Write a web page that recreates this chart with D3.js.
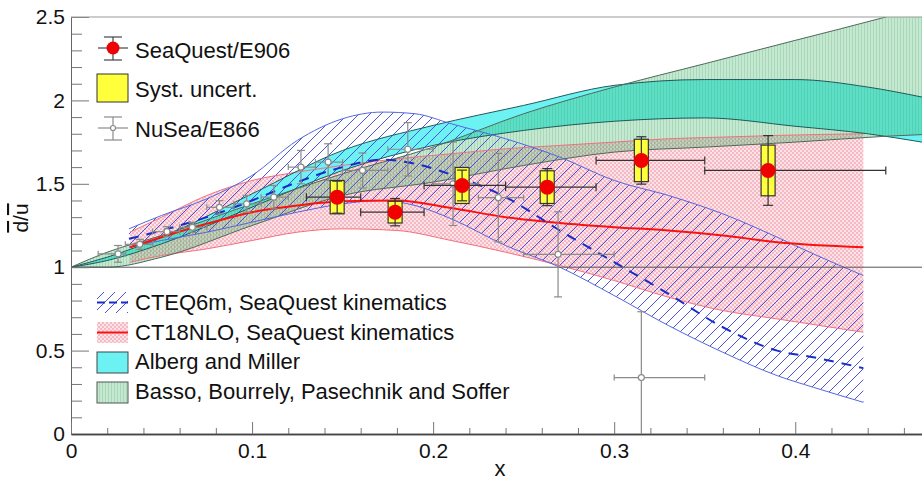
<!DOCTYPE html>
<html>
<head>
<meta charset="utf-8">
<script src="https://cdn.jsdelivr.net/npm/d3@7"></script>
<style>
body { margin: 0; background: #fff; }
svg { display: block; font-family: "Liberation Sans", Arial, Helvetica, sans-serif; }
</style>
</head>
<body>
<svg id="chart" width="922" height="483"></svg>
<script>
// SeaQuest / E906 points
var e906X = [0.147, 0.179, 0.216, 0.263, 0.315, 0.385];
var e906Y = [1.42, 1.33, 1.49, 1.48, 1.64, 1.58];
var e906Stat = [0.096, 0.082, 0.092, 0.111, 0.142, 0.209];
var e906Syst = [0.100, 0.065, 0.108, 0.098, 0.127, 0.152];
var e906XLo = [0.13, 0.16, 0.195, 0.24, 0.29, 0.35];
var e906XHi = [0.16, 0.195, 0.24, 0.29, 0.35, 0.45];

// NuSea / E866 points
var e866X = [0.026, 0.038, 0.053, 0.067, 0.082, 0.097, 0.112, 0.127, 0.142, 0.161, 0.186, 0.211, 0.236, 0.269, 0.315];
var e866Y = [1.08, 1.137, 1.213, 1.239, 1.359, 1.38, 1.42, 1.60, 1.63, 1.58, 1.707, 1.50, 1.417, 1.077, 0.338];
var e866Err = [0.05, 0.03, 0.03, 0.03, 0.04, 0.05, 0.07, 0.10, 0.11, 0.105, 0.16, 0.25, 0.265, 0.255, 0.395];
var e866XLo = [0.015, 0.03, 0.045, 0.06, 0.075, 0.09, 0.105, 0.12, 0.135, 0.15, 0.175, 0.20, 0.225, 0.25, 0.30];
var e866XHi = [0.03, 0.045, 0.06, 0.075, 0.09, 0.105, 0.12, 0.135, 0.15, 0.175, 0.20, 0.225, 0.25, 0.30, 0.35];

// CTEQ6m band
var ctqX = [0.032, 0.05, 0.075, 0.10, 0.125, 0.15, 0.172, 0.19, 0.21, 0.24, 0.27, 0.30, 0.33, 0.36, 0.39, 0.41, 0.4376];
var ctqHi = [1.23, 1.31, 1.41, 1.55, 1.76, 1.89, 1.93, 1.92, 1.86, 1.77, 1.66, 1.52, 1.43, 1.32, 1.18, 1.08, 0.95];
var ctqMid = [1.17, 1.22, 1.30, 1.40, 1.51, 1.60, 1.645, 1.62, 1.555, 1.42, 1.22, 1.03, 0.84, 0.64, 0.50, 0.46, 0.395];
var ctqLo = [1.12, 1.16, 1.21, 1.27, 1.33, 1.38, 1.40, 1.37, 1.29, 1.13, 1.00, 0.83, 0.65, 0.49, 0.35, 0.28, 0.19];

// CT18NLO band
var ct18X = [0.0326, 0.05, 0.075, 0.10, 0.125, 0.15, 0.18, 0.21, 0.24, 0.27, 0.30, 0.33, 0.36, 0.39, 0.4376];
var ct18Hi = [1.21, 1.30, 1.43, 1.52, 1.57, 1.61, 1.65, 1.68, 1.71, 1.73, 1.75, 1.77, 1.78, 1.79, 1.80];
var ct18Mid = [1.12, 1.18, 1.26, 1.33, 1.37, 1.395, 1.40, 1.355, 1.30, 1.265, 1.24, 1.22, 1.19, 1.15, 1.12];
var ct18Lo = [1.03, 1.07, 1.11, 1.16, 1.21, 1.23, 1.22, 1.16, 1.09, 1.01, 0.92, 0.82, 0.74, 0.69, 0.61];

// Alberg and Miller band
var amX = [0, 0.02, 0.05, 0.10, 0.15, 0.20, 0.25, 0.30, 0.35, 0.40, 0.44, 0.47];
var amLo = [1.0, 1.04, 1.14, 1.36, 1.58, 1.73, 1.82, 1.875, 1.895, 1.845, 1.80, 1.75];
var amHi = [1.0, 1.06, 1.18, 1.44, 1.70, 1.85, 1.97, 2.09, 2.125, 2.125, 2.08, 2.02];

// Basso, Bourrely, Pasechnik and Soffer band
var bbX = [0, 0.02, 0.05, 0.10, 0.15, 0.20, 0.25, 0.30, 0.35, 0.40, 0.45, 0.47];
var bbLo = [1.0, 1.0, 1.06, 1.25, 1.43, 1.51, 1.61, 1.69, 1.72, 1.75, 1.785, 1.795];
var bbHi = [1.0, 1.09, 1.19, 1.38, 1.56, 1.72, 1.92, 2.08, 2.22, 2.36, 2.50, 2.56];

var xTicks = [0, 0.1, 0.2, 0.3, 0.4];
var yTicks = [0, 0.5, 1, 1.5, 2, 2.5];

var svg = d3.select("#chart");
var x = d3.scaleLinear().domain([0, 0.47]).range([71, 922]);
var y = d3.scaleLinear().domain([0, 2.5]).range([434, 17]);

var defs = svg.append("defs");
defs.append("clipPath").attr("id", "plotclip")
    .append("rect").attr("x", 71).attr("y", 17).attr("width", 851).attr("height", 417);

var hatch = defs.append("pattern").attr("id", "hatch")
    .attr("patternUnits", "userSpaceOnUse").attr("width", 11).attr("height", 11);
hatch.append("path").attr("d", "M-1,1 l2,-2 M0,11 l11,-11 M10,12 l2,-2")
    .attr("stroke", "#4a55dc").attr("stroke-width", 1);

var dots = defs.append("pattern").attr("id", "dots")
    .attr("patternUnits", "userSpaceOnUse").attr("width", 4).attr("height", 4);
dots.append("rect").attr("width", 4).attr("height", 4).attr("fill", "#fde2e7");
dots.append("rect").attr("width", 2).attr("height", 2).attr("fill", "#f5b9c4");
dots.append("rect").attr("x", 2).attr("y", 2).attr("width", 2).attr("height", 2).attr("fill", "#f5b9c4");

var stripes = defs.append("pattern").attr("id", "stripes")
    .attr("patternUnits", "userSpaceOnUse").attr("width", 3).attr("height", 3);
stripes.append("rect").attr("width", 3).attr("height", 3).attr("fill", "rgb(60,180,100)").attr("fill-opacity", 0.30);
stripes.append("rect").attr("width", 1).attr("height", 3).attr("fill", "rgb(40,140,80)").attr("fill-opacity", 0.18);

function band(xs, lo, hi, mid) {
    return xs.map(function(v, i) {
        return { x: v, lo: lo[i], hi: hi[i], mid: mid ? mid[i] : null };
    });
}
var area = d3.area()
    .x(function(d) { return x(d.x); })
    .y0(function(d) { return y(d.lo); })
    .y1(function(d) { return y(d.hi); })
    .curve(d3.curveMonotoneX);
function edge(key) {
    return d3.line()
        .x(function(d) { return x(d.x); })
        .y(function(d) { return y(d[key]); })
        .curve(d3.curveMonotoneX);
}

var ctq = band(ctqX, ctqLo, ctqHi, ctqMid);
var ct18 = band(ct18X, ct18Lo, ct18Hi, ct18Mid);
var am = band(amX, amLo, amHi);
var bb = band(bbX, bbLo, bbHi);

var plot = svg.append("g").attr("clip-path", "url(#plotclip)");

plot.append("path").datum(ct18).attr("d", area).attr("fill", "url(#dots)");
plot.append("path").datum(am).attr("d", area).attr("fill", "#6cf2f2");
plot.append("path").datum(bb).attr("d", area).attr("fill", "url(#stripes)");
plot.append("path").datum(ctq).attr("d", area).attr("fill", "url(#hatch)");

function edges(data, color, width) {
    ["lo", "hi"].forEach(function(k) {
        plot.append("path").datum(data).attr("d", edge(k))
            .attr("fill", "none").attr("stroke", color).attr("stroke-width", width);
    });
}
edges(ct18, "#f2707e", 1);
edges(am, "#1f5a5a", 1);
edges(bb, "#4f6a5a", 1);
edges(ctq, "#5566e0", 1);

plot.append("path").datum(ct18).attr("d", edge("mid"))
    .attr("fill", "none").attr("stroke", "#ff1010").attr("stroke-width", 2);
plot.append("path").datum(ctq).attr("d", edge("mid"))
    .attr("fill", "none").attr("stroke", "#1a2cc8").attr("stroke-width", 2)
    .attr("stroke-dasharray", "10,8");

// line at ratio 1
plot.append("line")
    .attr("x1", x(0)).attr("x2", x(0.47))
    .attr("y1", y(1)).attr("y2", y(1))
    .attr("stroke", "#555").attr("stroke-width", 1);

// axes
var yMinor = d3.range(0, 2.51, 0.1).filter(function(v) { return Math.abs(v * 2 - Math.round(v * 2)) > 1e-6; });
var xMinor = d3.range(0, 0.47, 0.02).filter(function(v) { return Math.abs(v * 10 - Math.round(v * 10)) > 1e-6; });

svg.append("g").attr("class", "y minor").attr("transform", "translate(71,0)")
    .call(d3.axisLeft(y).tickValues(yMinor).tickSize(-11).tickSizeOuter(0).tickFormat(""));
svg.append("g").attr("class", "x minor").attr("transform", "translate(0,434)")
    .call(d3.axisBottom(x).tickValues(xMinor).tickSize(-6).tickSizeOuter(0).tickFormat(""));

svg.append("g").attr("class", "y major").attr("transform", "translate(71,0)")
    .call(d3.axisLeft(y).tickValues(yTicks).tickSize(-18).tickSizeOuter(0).tickPadding(6)
        .tickFormat(d3.format("")));
svg.append("g").attr("class", "x major").attr("transform", "translate(0,434)")
    .call(d3.axisBottom(x).tickValues(xTicks).tickSize(-12).tickSizeOuter(0).tickPadding(9)
        .tickFormat(d3.format("")));

svg.selectAll(".tick line").attr("stroke", "#777");
svg.selectAll(".y .domain").attr("stroke", "#666");
svg.selectAll(".x .domain").attr("stroke", "#444").attr("stroke-width", 1.5);
svg.selectAll(".major text").attr("font-size", 21).attr("fill", "#111")
    .attr("font-family", "'Liberation Sans', Arial, sans-serif");

svg.append("line").attr("x1", 71).attr("x2", 922).attr("y1", 17).attr("y2", 17)
    .attr("stroke", "#999").attr("stroke-width", 1.2);

// axis titles
svg.append("text").attr("x", x(0.237)).attr("y", 476).attr("text-anchor", "middle")
    .attr("font-size", 22).attr("fill", "#111").text("x");
var yt = svg.append("text").attr("transform", "translate(28,218) rotate(-90)")
    .attr("text-anchor", "middle").attr("font-size", 21).attr("fill", "#111");
yt.append("tspan").style("text-decoration", "overline").text("d");
yt.append("tspan").text("/");
yt.append("tspan").style("text-decoration", "overline").text("u");

// NuSea / E866
var nusea = svg.append("g").attr("stroke", "#8a8a8a").attr("stroke-width", 1.2);
e866X.forEach(function(xv, i) {
    var cy = y(e866Y[i]);
    var top = y(e866Y[i] + e866Err[i]);
    var bot = y(Math.max(0, e866Y[i] - e866Err[i]));
    var l = x(e866XLo[i]), r = x(e866XHi[i]), cx = x(xv);
    nusea.append("line").attr("x1", l).attr("x2", r).attr("y1", cy).attr("y2", cy);
    nusea.append("line").attr("x1", l).attr("x2", l).attr("y1", cy - 3).attr("y2", cy + 3);
    nusea.append("line").attr("x1", r).attr("x2", r).attr("y1", cy - 3).attr("y2", cy + 3);
    nusea.append("line").attr("x1", cx).attr("x2", cx).attr("y1", top).attr("y2", bot);
    nusea.append("line").attr("x1", cx - 4).attr("x2", cx + 4).attr("y1", top).attr("y2", top);
    if (e866Y[i] - e866Err[i] > 0)
        nusea.append("line").attr("x1", cx - 4).attr("x2", cx + 4).attr("y1", bot).attr("y2", bot);
    nusea.append("circle").attr("cx", cx).attr("cy", cy).attr("r", 3).attr("fill", "#fff");
});

// SeaQuest / E906
var sq = svg.append("g");
e906X.forEach(function(xv, i) {
    var cy = y(e906Y[i]), cx = x(xv);
    var l = x(e906XLo[i]), r = x(e906XHi[i]);
    var g = sq.append("g").attr("stroke", "#333").attr("stroke-width", 1.2);
    g.append("line").attr("x1", l).attr("x2", r).attr("y1", cy).attr("y2", cy);
    g.append("line").attr("x1", l).attr("x2", l).attr("y1", cy - 4).attr("y2", cy + 4);
    g.append("line").attr("x1", r).attr("x2", r).attr("y1", cy - 4).attr("y2", cy + 4);
    g.append("rect").attr("x", cx - 7).attr("width", 14)
        .attr("y", y(e906Y[i] + e906Syst[i]))
        .attr("height", y(e906Y[i] - e906Syst[i]) - y(e906Y[i] + e906Syst[i]))
        .attr("fill", "#ffff3c").attr("stroke", "#333");
    var top = y(e906Y[i] + e906Stat[i]), bot = y(e906Y[i] - e906Stat[i]);
    g.append("line").attr("x1", cx).attr("x2", cx).attr("y1", top).attr("y2", bot);
    g.append("line").attr("x1", cx - 5).attr("x2", cx + 5).attr("y1", top).attr("y2", top);
    g.append("line").attr("x1", cx - 5).attr("x2", cx + 5).attr("y1", bot).attr("y2", bot);
    sq.append("circle").attr("cx", cx).attr("cy", cy).attr("r", 7.5).attr("fill", "#f00000");
});

// top legend
var leg = svg.append("g").attr("font-size", 22).attr("fill", "#111");
var lg1 = leg.append("g").attr("stroke", "#444").attr("stroke-width", 1.2);
lg1.append("line").attr("x1", 98).attr("x2", 128).attr("y1", 48).attr("y2", 48);
lg1.append("line").attr("x1", 113).attr("x2", 113).attr("y1", 37).attr("y2", 60);
lg1.append("line").attr("x1", 104).attr("x2", 122).attr("y1", 37).attr("y2", 37);
lg1.append("line").attr("x1", 104).attr("x2", 122).attr("y1", 60).attr("y2", 60);
leg.append("circle").attr("cx", 113).attr("cy", 48).attr("r", 6.5).attr("fill", "#f00000");
leg.append("text").attr("x", 135).attr("y", 50).attr("dy", "0.36em").text("SeaQuest/E906");

leg.append("rect").attr("x", 97).attr("y", 74).attr("width", 31).attr("height", 28)
    .attr("fill", "#ffff3c").attr("stroke", "#333");
leg.append("text").attr("x", 135).attr("y", 89).attr("dy", "0.36em").text("Syst. uncert.");

var lg3 = leg.append("g").attr("stroke", "#8a8a8a").attr("stroke-width", 1.2);
lg3.append("line").attr("x1", 98).attr("x2", 128).attr("y1", 128).attr("y2", 128);
lg3.append("line").attr("x1", 113).attr("x2", 113).attr("y1", 117).attr("y2", 140);
lg3.append("line").attr("x1", 104).attr("x2", 122).attr("y1", 117).attr("y2", 117);
lg3.append("line").attr("x1", 104).attr("x2", 122).attr("y1", 140).attr("y2", 140);
lg3.append("circle").attr("cx", 113).attr("cy", 128).attr("r", 2.5).attr("fill", "#fff");
leg.append("text").attr("x", 135).attr("y", 129).attr("dy", "0.36em").text("NuSea/E866");

// bottom legend
var leg2 = svg.append("g").attr("font-size", 22).attr("fill", "#111");
leg2.append("rect").attr("x", 97).attr("y", 292).attr("width", 31).attr("height", 21).attr("fill", "url(#hatch)");
leg2.append("line").attr("x1", 97).attr("x2", 128).attr("y1", 302.5).attr("y2", 302.5)
    .attr("stroke", "#1a2cc8").attr("stroke-width", 2).attr("stroke-dasharray", "8,4");
leg2.append("text").attr("x", 135).attr("y", 302).attr("dy", "0.36em").text("CTEQ6m, SeaQuest kinematics");

leg2.append("rect").attr("x", 97).attr("y", 322).attr("width", 31).attr("height", 21).attr("fill", "url(#dots)");
leg2.append("line").attr("x1", 97).attr("x2", 128).attr("y1", 332.5).attr("y2", 332.5)
    .attr("stroke", "#ff1010").attr("stroke-width", 2);
leg2.append("text").attr("x", 135).attr("y", 332).attr("dy", "0.36em").text("CT18NLO, SeaQuest kinematics");

leg2.append("rect").attr("x", 97).attr("y", 352).attr("width", 31).attr("height", 21)
    .attr("fill", "#6cf2f2").attr("stroke", "#444");
leg2.append("text").attr("x", 135).attr("y", 361).attr("dy", "0.36em").text("Alberg and Miller");

leg2.append("rect").attr("x", 97).attr("y", 382).attr("width", 31).attr("height", 21)
    .attr("fill", "url(#stripes)").attr("stroke", "#555");
leg2.append("text").attr("x", 135).attr("y", 391).attr("dy", "0.36em").text("Basso, Bourrely, Pasechnik and Soffer");
</script>
</body>
</html>
